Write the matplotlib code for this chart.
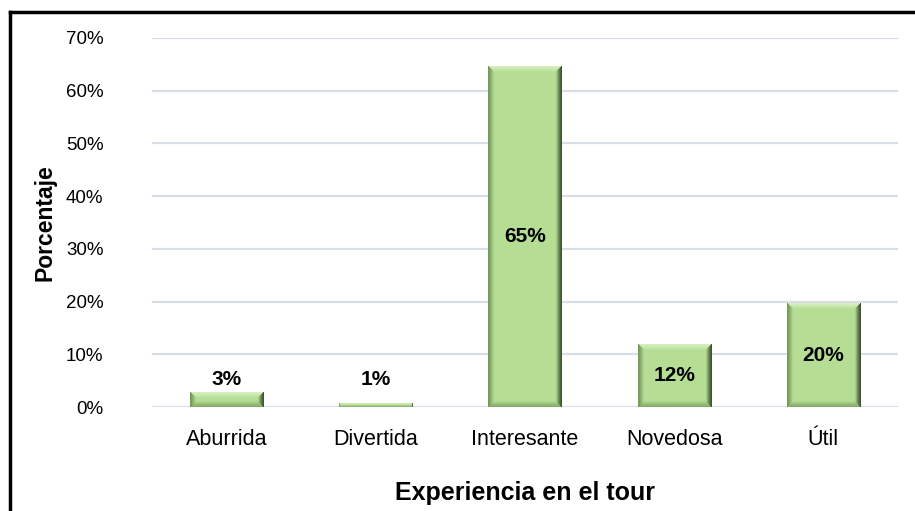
import numpy as np
import matplotlib
matplotlib.use('Agg')
import matplotlib.pyplot as plt
from matplotlib.lines import Line2D

# ====== 数据 ======
categorias = ['Aburrida', 'Divertida', 'Interesante', 'Novedosa', 'Útil']
porcentajes = [2.8, 0.6, 64.6, 11.8, 19.7]
yticks = [0, 10, 20, 30, 40, 50, 60, 70]

# ====== 字体 ======
plt.rcParams['font.family'] = ['Liberation Sans', 'DejaVu Sans']

W, H = 915, 511
fig = plt.figure(figsize=(W / 100, H / 100), dpi=100)
ax = fig.add_axes([152 / W, (H - 407) / H, (898 - 152) / W, (407 - 38) / H])
ax.set_xlim(-0.5, len(categorias) - 0.5)
ax.set_ylim(0, 70)

# 网格线
for v in yticks:
    ax.axhline(v, color='#d9dde6', lw=1.6, zorder=0)

base = np.array([0.71, 0.87, 0.58])
ancho = 0.49


def bisel(wp, hp, b=6.0):
    # 斜面效果：左、右、上、下四条边分别着色
    yy, xx = np.mgrid[0:hp, 0:wp].astype(float)
    dl = xx + 0.5
    dr = wp - xx - 0.5
    dt = yy + 0.5
    db = hp - yy - 0.5
    img = np.tile(base, (hp, wp, 1))
    dmin = np.minimum(np.minimum(dl, dr), np.minimum(dt, db))
    edge = dmin < b
    t = np.clip(dmin / b, 0, 1)[..., None] ** 1.3
    claro = np.array([0.84, 0.94, 0.75])
    oscuro = np.array([0.22, 0.31, 0.17])
    medio = np.array([0.45, 0.58, 0.36])
    bajo = np.array([0.52, 0.66, 0.40])
    col = np.zeros_like(img)
    sel_l = (dl == dmin)
    sel_r = (dr == dmin) & ~sel_l
    sel_t = (dt == dmin) & ~sel_l & ~sel_r
    sel_b = ~(sel_l | sel_r | sel_t)
    col[sel_l] = medio
    col[sel_r] = oscuro
    col[sel_t] = claro
    col[sel_b] = bajo
    mix = col * (1 - t) + base * t
    img[edge] = mix[edge]
    return img


for i, v in enumerate(porcentajes):
    x0, x1 = i - ancho / 2, i + ancho / 2
    (px0, py0), (px1, py1) = ax.transData.transform([(x0, 0), (x1, v)])
    wp = max(int(round(px1 - px0)), 1)
    hp = max(int(round(py1 - py0)), 1)
    b = min(6.0, hp / 2.0)
    ax.imshow(bisel(wp, hp, b), extent=(x0, x1, 0, v), aspect='auto',
              interpolation='bilinear', zorder=2)
    etiqueta = f'{v:.0f}%'
    if v > 8:
        ax.text(i, v / 2, etiqueta, ha='center', va='center',
                fontsize=15, fontweight='bold', zorder=3)
    else:
        ax.text(i, max(v, 2.8) + 0.7, etiqueta, ha='center', va='bottom',
                fontsize=15, fontweight='bold', zorder=3)

ax.set_xlim(-0.5, len(categorias) - 0.5)
ax.set_ylim(0, 70)
ax.set_xticks(range(len(categorias)))
ax.set_xticklabels(categorias, fontsize=15.5)
ax.set_yticks(yticks)
ax.set_yticklabels([f'{v}%' for v in yticks], fontsize=13.5)
ax.tick_params(length=0)
ax.tick_params(axis='x', pad=16)
ax.tick_params(axis='y', pad=35)
for s in ax.spines.values():
    s.set_visible(False)

ax.set_xlabel('Experiencia en el tour', fontsize=18, fontweight='bold')
ax.set_ylabel('Porcentaje', fontsize=16.5, fontweight='bold')
ax.xaxis.set_label_coords(0.5, (407 - 493) / 369)
ax.yaxis.set_label_coords((45 - 152) / 746, 0.5)
ax.xaxis.label.set_va('center')
ax.yaxis.label.set_va('center')

# 外框（上、左）
fig.add_artist(Line2D([10 / W, 1], [1 - 12 / H, 1 - 12 / H], color='black', lw=2.5))
fig.add_artist(Line2D([10 / W, 10 / W], [0, 1 - 12 / H], color='black', lw=2.5))

plt.savefig('out.png', dpi=100)
